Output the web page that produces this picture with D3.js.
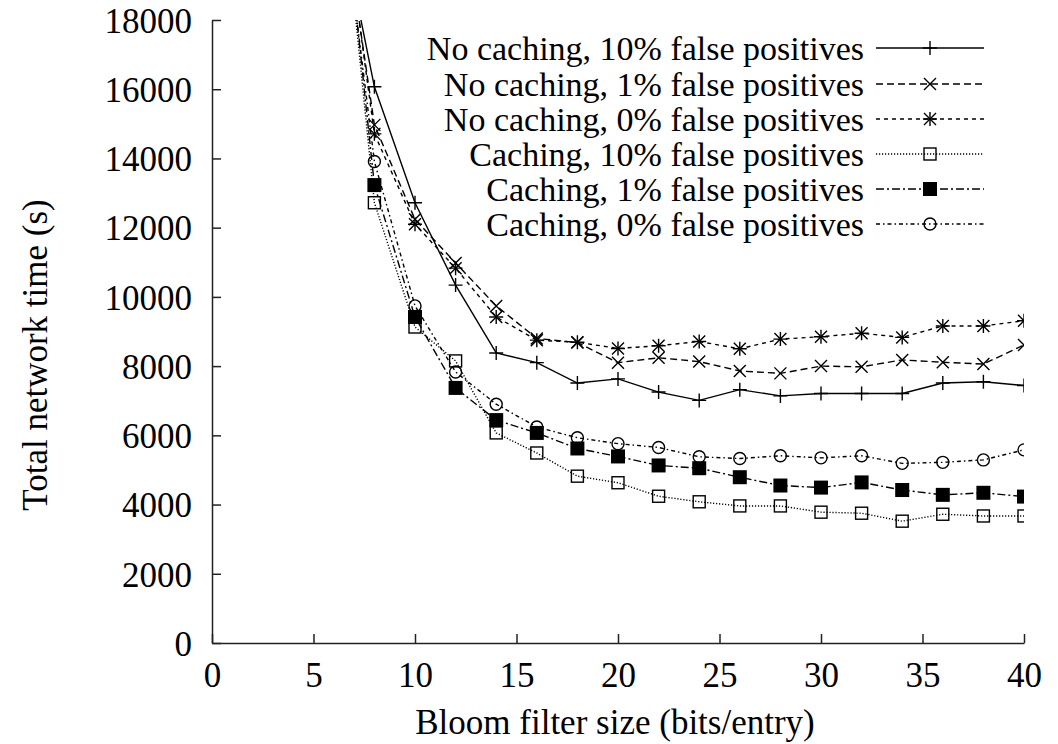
<!DOCTYPE html>
<html lang="en">
<head>
	<meta charset="utf-8">
	<title>Bloom filter size vs total network time</title>
	<script src="https://cdnjs.cloudflare.com/ajax/libs/d3/7.8.5/d3.min.js"></script>
	<style>
		body { margin: 0; background: white; }
	</style>
</head>
<body>
<div id="chart"></div>
<script type="text/javascript">

	// x values (bits/entry); the point at 6 lies above the plot and gets clipped
	var bitsPerEntry = [6, 8, 10, 12, 14, 16, 18, 20, 22, 24, 26, 28, 30, 32, 34, 36, 38, 40];

	// series values (s)
	var noCache10 = [21900, 16070, 12720, 10340, 8380, 8100, 7510, 7630, 7250, 7010, 7320, 7140, 7210, 7210, 7210, 7510, 7550, 7440];
	var noCache1  = [23000, 14970, 12240, 10980, 9740, 8800, 8680, 8100, 8240, 8130, 7860, 7790, 8000, 7980, 8180, 8110, 8060, 8610];
	var noCache0  = [23400, 14710, 12100, 10830, 9420, 8750, 8690, 8510, 8590, 8710, 8500, 8780, 8850, 8950, 8830, 9160, 9160, 9310];
	var cache10   = [24300, 12720, 9130, 8150, 6070, 5490, 4820, 4630, 4240, 4080, 3960, 3960, 3780, 3750, 3520, 3720, 3670, 3670];
	var cache1    = [24300, 13230, 9420, 7370, 6440, 6070, 5620, 5390, 5130, 5050, 4790, 4550, 4490, 4640, 4420, 4280, 4340, 4230];
	var cache0    = [23400, 13910, 9740, 7830, 6900, 6240, 5930, 5760, 5650, 5380, 5330, 5410, 5350, 5410, 5190, 5220, 5290, 5580];

	var seriesNames = ["No caching, 10% false positives", "No caching, 1% false positives", "No caching, 0% false positives",
		"Caching, 10% false positives", "Caching, 1% false positives", "Caching, 0% false positives"];
	var seriesValues = [noCache10, noCache1, noCache0, cache10, cache1, cache0];
	var seriesMarkers = ["plus", "cross", "star", "box", "filledbox", "circle"];
	var seriesDashes = [null, "7,4", "4,4", "1.2,1.8", "8,3,2,3", "4,3,1.5,3"];

	var xTicks = [0, 5, 10, 15, 20, 25, 30, 35, 40];
	var yTicks = [0, 2000, 4000, 6000, 8000, 10000, 12000, 14000, 16000, 18000];

	// Width and height
	var outer_width = 1058;
	var outer_height = 744;
	var margin = {top: 20, right: 34, bottom: 101, left: 212};
	var svg_width = outer_width - margin.left - margin.right;
	var svg_height = outer_height - margin.top - margin.bottom;
	var fontFamily = "'Liberation Serif', 'Times New Roman', serif";
	var fontSize = "35px";

	var svgRoot = d3.select("#chart")
		.append("svg")
		.attr("width", outer_width)
		.attr("height", outer_height);

	var svg = svgRoot.append("g")
		.attr("transform", "translate(" + margin.left + "," + margin.top + ")");

	var xScale = d3.scaleLinear().domain([0, 40]).range([0, svg_width]);
	var yScale = d3.scaleLinear().domain([0, 18000]).range([svg_height, 0]);

	// clip lines to the plot area
	svg.append("clipPath")
		.attr("id", "plotclip")
		.append("rect")
		.attr("width", svg_width)
		.attr("height", svg_height);

	// axes, ticks pointing inward
	var xAxis = d3.axisBottom(xScale).tickValues(xTicks).tickFormat(d3.format("d"))
		.tickSizeInner(-9).tickSizeOuter(0).tickPadding(19);
	var yAxis = d3.axisLeft(yScale).tickValues(yTicks).tickFormat(d3.format("d"))
		.tickSizeInner(-9).tickSizeOuter(0).tickPadding(20);

	var gx = svg.append("g")
		.attr("transform", "translate(0," + svg_height + ")")
		.call(xAxis);
	var gy = svg.append("g").call(yAxis);

	[gx, gy].forEach(function(g){
		g.selectAll("path, line").attr("stroke", "#222").attr("stroke-width", 1.5);
		g.selectAll("text").style("font-size", fontSize).style("font-family", fontFamily).attr("fill", "black");
	});
	gx.selectAll("text").attr("dy", "0.72em");
	gy.selectAll("text").attr("dy", "0.35em");

	// axis titles
	svgRoot.append("text")
		.attr("x", 615)
		.attr("y", 734)
		.attr("text-anchor", "middle")
		.style("font-family", fontFamily)
		.style("font-size", fontSize)
		.text("Bloom filter size (bits/entry)");

	svgRoot.append("text")
		.attr("transform", "translate(47,355) rotate(-90)")
		.attr("text-anchor", "middle")
		.style("font-family", fontFamily)
		.style("font-size", fontSize)
		.text("Total network time (s)");

	// marker drawing
	function drawMarker(g, type, cx, cy){
		var s = 7;
		if (type == "plus" || type == "star"){
			g.append("path").attr("d", "M" + (cx - s) + "," + cy + "H" + (cx + s) + "M" + cx + "," + (cy - s) + "V" + (cy + s))
				.attr("stroke", "black").attr("stroke-width", 1.4).attr("fill", "none");
		}
		if (type == "cross" || type == "star"){
			var c = 6;
			g.append("path").attr("d", "M" + (cx - c) + "," + (cy - c) + "L" + (cx + c) + "," + (cy + c) + "M" + (cx - c) + "," + (cy + c) + "L" + (cx + c) + "," + (cy - c))
				.attr("stroke", "black").attr("stroke-width", 1.4).attr("fill", "none");
		}
		if (type == "box"){
			g.append("rect").attr("x", cx - 6).attr("y", cy - 6).attr("width", 12).attr("height", 12)
				.attr("fill", "none").attr("stroke", "black").attr("stroke-width", 1.4);
		}
		if (type == "filledbox"){
			g.append("rect").attr("x", cx - 7).attr("y", cy - 7).attr("width", 14).attr("height", 14)
				.attr("fill", "black");
		}
		if (type == "circle"){
			g.append("circle").attr("cx", cx).attr("cy", cy).attr("r", 6)
				.attr("fill", "none").attr("stroke", "black").attr("stroke-width", 1.4);
		}
	}

	var line = d3.line()
		.x(function(d){ return xScale(d.x); })
		.y(function(d){ return yScale(d.y); });

	var plot = svg.append("g").attr("clip-path", "url(#plotclip)");

	seriesValues.forEach(function(vals, i){
		var pts = vals.map(function(v, j){ return {x: bitsPerEntry[j], y: v}; });
		plot.append("path")
			.datum(pts)
			.attr("d", line)
			.attr("fill", "none")
			.attr("stroke", "black")
			.attr("stroke-width", 1.4)
			.attr("stroke-dasharray", seriesDashes[i]);
		var mg = plot.append("g");
		pts.forEach(function(p){
			if (p.y <= 18000) drawMarker(mg, seriesMarkers[i], xScale(p.x), yScale(p.y));
		});
	});

	// legend
	var legend = svgRoot.append("g");
	var legendRows = [48, 84, 119, 154, 189, 224];
	seriesNames.forEach(function(name, i){
		var ly = legendRows[i];
		legend.append("text")
			.attr("x", 864)
			.attr("y", ly)
			.attr("dy", "0.35em")
			.attr("text-anchor", "end")
			.style("font-family", fontFamily)
			.style("font-size", "34px")
			.text(name);
		legend.append("line")
			.attr("x1", 876).attr("x2", 984)
			.attr("y1", ly).attr("y2", ly)
			.attr("stroke", "black")
			.attr("stroke-width", 1.4)
			.attr("stroke-dasharray", seriesDashes[i]);
		drawMarker(legend, seriesMarkers[i], 930, ly);
	});

</script>
</body>
</html>
